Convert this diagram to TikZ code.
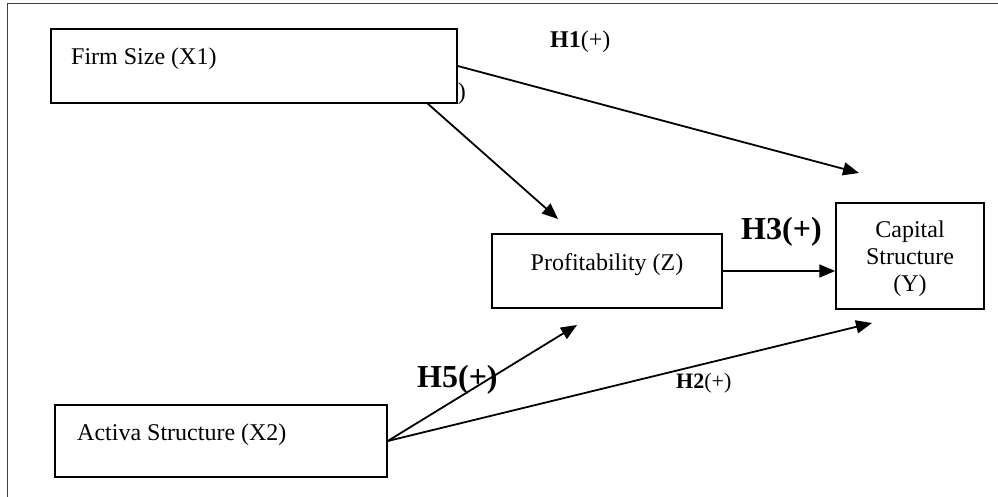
\documentclass[tikz,border=0pt]{standalone}
\usepackage{fontspec}
\setmainfont{Liberation Serif}
\usetikzlibrary{arrows.meta}

\begin{document}
\begin{tikzpicture}[x=1pt,y=-1pt,
        box/.style={draw, line width=1.5pt, fill=white, inner sep=0pt},
        txt/.style={inner sep=0pt, font=\fontsize{24}{27}\selectfont},
        hyp/.style={inner sep=0pt, font=\fontsize{32}{36}\selectfont\bfseries},
        arr/.style={-{Triangle[length=16pt,width=13pt]}, line width=1.8pt}]
    \useasboundingbox (0,0) rectangle (998,497);
    \draw[black!75, line width=1pt] (7,497) -- (7,3.5) -- (998,3.5);
    % variables
    \node[box, minimum width=406pt, minimum height=74pt] (firm) at (254,66) {};
    \node[box, minimum width=230pt, minimum height=74pt] (profit) at (607,271) {};
    \node[box, minimum width=148pt, minimum height=106pt] (cap) at (910,256) {};
    \node[box, minimum width=332pt, minimum height=72pt] (act) at (221,441) {};
    \node[txt, anchor=base west] (firmtxt) at (71,65) {Firm Size (X1)};
    \node[txt, anchor=base] (profittxt) at (607,270) {Profitability (Z)};
    \node[txt, align=center] (captxt) at (910,259) {Capital\\Structure\\(Y)};
    \node[txt, anchor=base west] (acttxt) at (77,440) {Activa Structure (X2)};
    % hypotheses
    \node[txt, anchor=base west] (h1) at (550,48) {\textbf{H1}(+)};
    \node[txt, anchor=base east] (h4) at (466,100) {)};
    \node[hyp, anchor=base west] (h3) at (741,240) {H3(+)};
    \node[hyp, anchor=base west] (h5) at (417,387) {H5(+)};
    \node[txt, anchor=base west, font=\fontsize{22}{26}\selectfont] (h2) at (676,388) {\textbf{H2}(+)};
    % paths
    \coordinate (h1end) at (859,173);
    \coordinate (firmout) at (427,103);
    \coordinate (h4end) at (558,219);
    \coordinate (h5end) at (577,325);
    \coordinate (h2end) at (872,323);
    \draw[arr] (firm.east) -- (h1end);
    \draw[arr] (firmout) -- (h4end);
    \draw[arr] (profit.east) -- (profit.east -| cap.west);
    \draw[arr] (act.east) -- (h5end);
    \draw[arr] (act.east) -- (h2end);
\end{tikzpicture}
\end{document}
